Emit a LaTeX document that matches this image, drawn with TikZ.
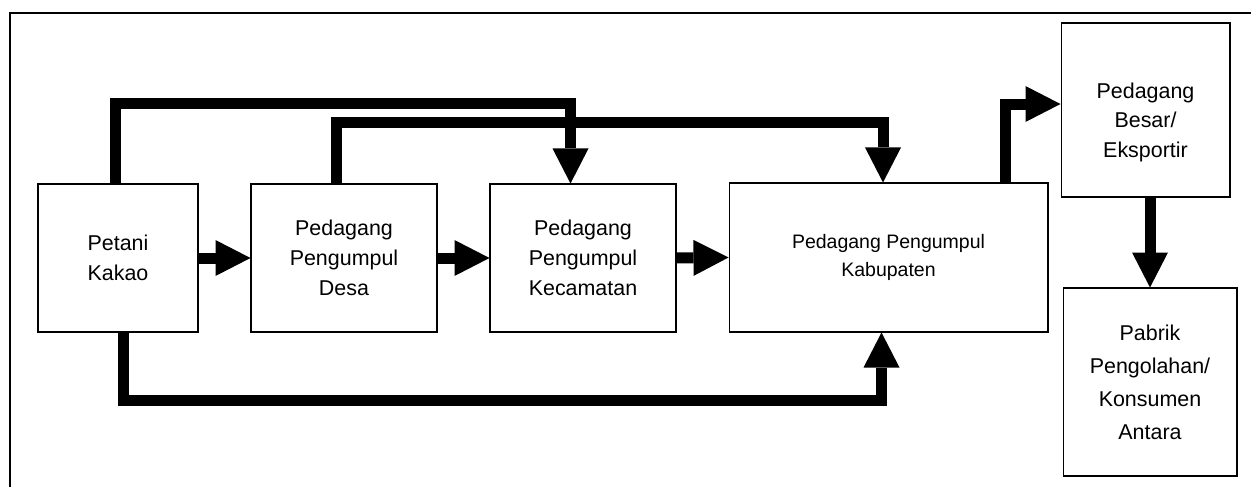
\documentclass[tikz,border=0pt]{standalone}
\usepackage{fontspec}
\setmainfont{Liberation Sans}
\usetikzlibrary{arrows.meta}
\tikzset{box/.style = {
    draw, 
    line width = 0.6pt, 
    align = center, 
    inner sep = 0pt, 
    font = \fontsize{12.2}{17}\selectfont
}}
\tikzset{flow/.style = {
    line width = 0.22cm, 
    -{Triangle[width = 0.72cm, length = 0.7cm, line width = 0pt]}
}}
\tikzset{frame/.style = {
    line width = 0.75pt
}}

\begin{document}
\begin{tikzpicture}[x = 0.02cm, y = -0.02cm]
    \useasboundingbox 
        (0, 0) rectangle (1251, 487)
    ;

    % Frame
    \draw [frame] (10, 487) |- (1251, 13);

    % Boxes
    \node 
        [box, minimum width = 3.2cm, minimum height = 2.96cm] 
        (petani) at (118, 258) {Petani\\Kakao}
    ;
    \node 
        [box, minimum width = 3.72cm, minimum height = 2.96cm] 
        (desa) at (344, 258) {Pedagang\\Pengumpul\\Desa}
    ;
    \node 
        [box, minimum width = 3.72cm, minimum height = 2.96cm] 
        (kecamatan) at (583, 258) {Pedagang\\Pengumpul\\Kecamatan}
    ;
    \node 
        [box, minimum width = 6.38cm, minimum height = 2.98cm, 
         font = \fontsize{11.1}{15.5}\selectfont] 
        (kabupaten) at (888.5, 257.5) {Pedagang Pengumpul\\Kabupaten}
    ;
    \node 
        [box, minimum width = 3.38cm, minimum height = 3.48cm] 
        (besar) at (1145.5, 110) {\rule{0pt}{23pt}Pedagang\\Besar/\\Eksportir}
    ;
    \node 
        [box, minimum width = 3.48cm, minimum height = 3.76cm, 
         font = \fontsize{12.2}{18.8}\selectfont] 
        (pabrik) at (1150, 382) {Pabrik\\Pengolahan/\\Konsumen\\Antara}
    ;

    % Flows
    \draw 
        [flow] (petani.east) -- (desa.west)
    ;
    \draw 
        [flow] (desa.east) -- (kecamatan.west)
    ;
    \draw 
        [flow] (kecamatan.east) -- (kabupaten.west)
    ;
    \draw 
        [flow] 
        ([xshift = -0.05cm]petani.north) 
        -- ++(0, -79.5) 
        -| ([xshift = -0.25cm]kecamatan.north)
    ;
    \draw 
        [flow] 
        ([xshift = -0.15cm]desa.north) 
        -- ++(0, -60.5) 
        -| ([xshift = -0.11cm]kabupaten.north)
    ;
    \draw 
        [flow] 
        ([xshift = 0.11cm]petani.south) 
        -- ++(0, 68) 
        -| ([xshift = -0.14cm]kabupaten.south)
    ;
    \draw 
        [flow] 
        ([xshift = 2.35cm]kabupaten.north) 
        |- ([yshift = 0.12cm]besar.west)
    ;
    \draw 
        [flow] 
        (pabrik.north |- besar.south) -- (pabrik.north)
    ;

\end{tikzpicture}
\end{document}
